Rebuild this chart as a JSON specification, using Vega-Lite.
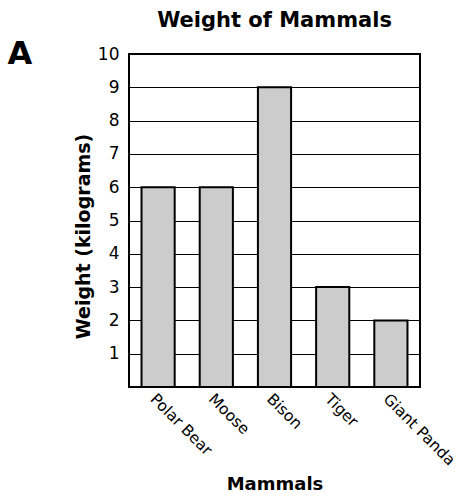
{
  "$schema": "https://vega.github.io/schema/vega-lite/v6.json",
  "width": 291,
  "height": 333,
  "autosize": "none",
  "padding": {"left": 129, "top": 54, "right": 39, "bottom": 109},
  "background": "white",
  "config": {
    "font": "DejaVu Sans",
    "view": {"stroke": "black", "strokeWidth": 2}
  },
  "title": {
    "text": "Weight of Mammals",
    "fontSize": 21,
    "fontWeight": "bold",
    "color": "black",
    "anchor": "middle",
    "offset": 6
  },
  "data": {
    "values": [
      {"Mammal": "Polar Bear", "Weight": 6},
      {"Mammal": "Moose", "Weight": 6},
      {"Mammal": "Bison", "Weight": 9},
      {"Mammal": "Tiger", "Weight": 3},
      {"Mammal": "Giant Panda", "Weight": 2}
    ]
  },
  "layer": [
    {
      "mark": {"type": "bar", "fill": "#cccccc", "stroke": "black", "strokeWidth": 2},
      "encoding": {
        "x": {
          "field": "Mammal",
          "type": "nominal",
          "sort": null,
          "scale": {"paddingInner": 0.43, "paddingOuter": 0.215},
          "axis": {
            "orient": "bottom",
            "title": "Mammals",
            "titleFontSize": 18,
            "titleFontWeight": "bold",
            "titleColor": "black",
            "titleBaseline": "alphabetic",
            "titleY": 102,
            "labelAngle": 45,
            "labelAlign": "left",
            "labelBaseline": "top",
            "labelFontSize": 15.5,
            "labelColor": "black",
            "labelPadding": 4,
            "ticks": false,
            "domain": false
          }
        },
        "y": {
          "field": "Weight",
          "type": "quantitative",
          "scale": {"domain": [0, 10]},
          "axis": {
            "values": [1, 2, 3, 4, 5, 6, 7, 8, 9, 10],
            "title": "Weight (kilograms)",
            "titleFontSize": 19,
            "titleFontWeight": "bold",
            "titleColor": "black",
            "titlePadding": 4,
            "titleY": 182,
            "labelFontSize": 17,
            "labelColor": "black",
            "labelPadding": 10,
            "ticks": false,
            "domain": false,
            "grid": true,
            "gridColor": "black",
            "gridOpacity": 1,
            "gridWidth": 1
          }
        }
      }
    },
    {
      "mark": {"type": "bar", "opacity": 0},
      "encoding": {
        "x": {
          "field": "Mammal",
          "type": "nominal",
          "sort": null,
          "axis": {
            "orient": "top",
            "labels": false,
            "ticks": false,
            "domain": false,
            "grid": false,
            "title": "A",
            "titleFontSize": 32,
            "titleFontWeight": "bold",
            "titleColor": "black",
            "titleAngle": 0,
            "titleAlign": "left",
            "titleBaseline": "alphabetic",
            "titleX": -122,
            "titleY": 9
          }
        }
      }
    }
  ],
  "resolve": {"axis": {"x": "independent"}}
}
